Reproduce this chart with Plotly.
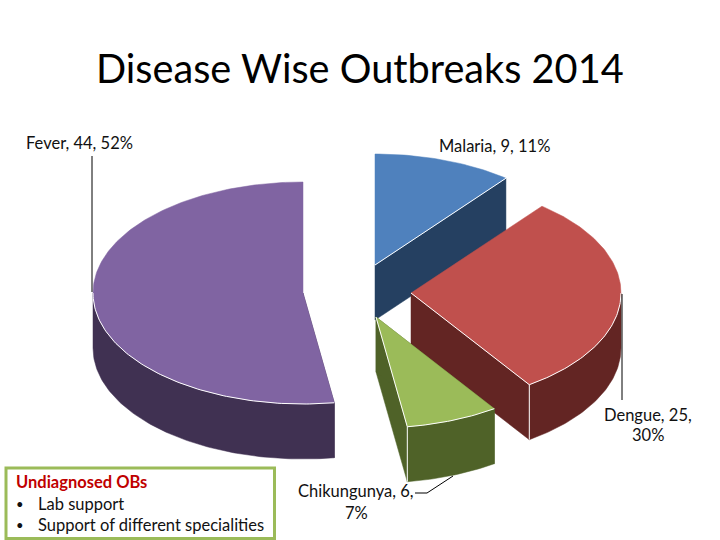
import numpy as np
import plotly.graph_objects as go

# Data
categories = ["Malaria", "Dengue", "Chikungunya", "Fever"]
values = [9, 25, 6, 44]
percents = [11, 30, 7, 52]
title = "Disease Wise Outbreaks 2014"
note_heading = "Undiagnosed OBs"
note_items = ["Lab support", "Support of different specialities"]

# Appearance
top_colors = ["#4F81BD", "#C0504D", "#9BBB59", "#8064A2"]
side_colors = ["#254061", "#632523", "#4F6228", "#403152"]
apex_x = [375, 411, 376, 303]
apex_y = [265, 293, 317, 293]
RX, RY, DEPTH = 210, 111, 55
FONT = "Lato"
LABEL = 16.5

total = sum(values)
edges = np.concatenate([[0], np.cumsum(values)]) / total * 2 * np.pi


def rim(cx, cy, a0, a1, dz=0):
    t = np.linspace(a0, a1, max(2, int(abs(a1 - a0) * 60)))
    return cx + RX * np.sin(t), cy - RY * np.cos(t) + dz


def poly(fig, xs, ys, color):
    fig.add_trace(go.Scatter(x=list(xs) + [xs[0]], y=list(ys) + [ys[0]], mode="lines",
                             fill="toself", fillcolor=color,
                             line=dict(color=color, width=0.5), hoverinfo="skip",
                             showlegend=False))


def stroke(fig, xs, ys, color="white", width=1):
    fig.add_trace(go.Scatter(x=list(xs), y=list(ys), mode="lines",
                             line=dict(color=color, width=width), hoverinfo="skip",
                             showlegend=False))


fig = go.Figure()

# Draw order: Fever, Malaria, Dengue, Chikungunya
for i in [3, 0, 1, 2]:
    cx, cy = apex_x[i], apex_y[i]
    a0, a1 = edges[i], edges[i + 1]
    top, side = top_colors[i], side_colors[i]

    # radial cut faces facing the viewer
    for a, facing in ((a1, a1 < np.pi), (a0, a0 > np.pi / 2 and a0 < np.pi)):
        if facing:
            ex, ey = rim(cx, cy, a, a)
            poly(fig, [cx, ex[0], ex[0], cx], [cy, ey[0], ey[0] + DEPTH, cy + DEPTH], side)

    # outer wall (front half of the rim only)
    w0, w1 = max(a0, np.pi / 2), min(a1, 3 * np.pi / 2)
    if w1 > w0:
        ux, uy = rim(cx, cy, w0, w1)
        lx, ly = rim(cx, cy, w0, w1, DEPTH)
        poly(fig, np.r_[ux, lx[::-1]], np.r_[uy, ly[::-1]], side)

    # top face
    rx_, ry_ = rim(cx, cy, a0, a1)
    poly(fig, np.r_[cx, rx_], np.r_[cy, ry_], top)

    # light highlights on edges that border the dark walls
    if i == 0:
        stroke(fig, [cx, rx_[-1]], [cy, ry_[-1]])
    if w1 > w0:
        ux, uy = rim(cx, cy, w0, w1)
        if a1 < np.pi:
            stroke(fig, np.r_[cx, ux[-1]], np.r_[cy, uy[-1]])
        stroke(fig, ux, uy)
        if i != 3:
            stroke(fig, [ux[-1], ux[-1]], [uy[-1], uy[-1] + DEPTH])

# Leader lines
stroke(fig, [92, 92], [156, 292], "black", 1)
stroke(fig, [622, 622], [294, 400], "black", 1)
stroke(fig, [415, 427, 453], [493, 493, 476], "black", 1)


def note(x, y, text, size=LABEL, color="#111111", anchor="center", bold=False):
    fig.add_annotation(x=x, y=y, text=f"<b>{text}</b>" if bold else text, showarrow=False,
                       xanchor=anchor, yanchor="middle", align="center",
                       font=dict(family=FONT, size=size, color=color))


# Title and data labels
note(360, 67, title, size=39.7, color="black")
note(79, 143, f"{categories[3]}, {values[3]}, {percents[3]}%")
note(494, 146, f"{categories[0]}, {values[0]}, {percents[0]}%")
note(648, 415, f"{categories[1]}, {values[1]},")
note(648, 435, f"{percents[1]}%")
note(356, 491, f"{categories[2]}, {values[2]},")
note(356, 513, f"{percents[2]}%")

# Call-out box
fig.add_shape(type="rect", x0=6, y0=468, x1=274.5, y1=538.5,
              line=dict(color="#9BBB59", width=3), fillcolor="white")
note(14, 482, note_heading, color="#C00000", anchor="left", bold=True)
for yy, item in zip((504, 525), note_items):
    note(14, yy, "•", size=13, anchor="left")
    note(36, yy, item, anchor="left")

fig.update_layout(
    width=720, height=540, margin=dict(l=0, r=0, t=0, b=0),
    paper_bgcolor="white", plot_bgcolor="white", showlegend=False,
    xaxis=dict(range=[0, 720], visible=False, fixedrange=True),
    yaxis=dict(range=[540, 0], visible=False, fixedrange=True),
)
fig.write_html("out.html", post_script="document.body.style.margin='0';",
               config={"displayModeBar": False})
